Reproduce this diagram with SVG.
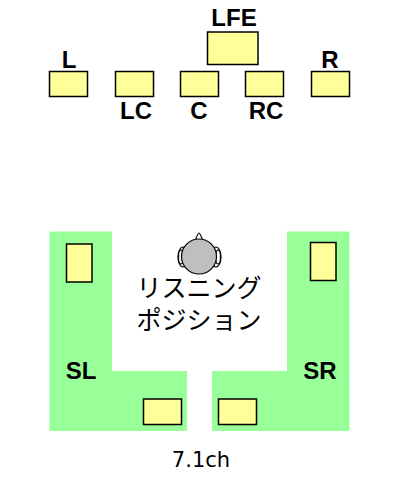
<svg xmlns="http://www.w3.org/2000/svg" width="400" height="480" viewBox="0 0 400 480">
<style>
.sp{fill:#ffff99;stroke:#000;stroke-width:1.5}
.room{fill:#99ff99}
.lb{font:bold 24px "Liberation Sans",Arial,sans-serif;fill:#000;text-anchor:middle}
.jp{font:25px "Noto Sans CJK JP","Liberation Sans",sans-serif;fill:#000;text-anchor:middle}
.cap{font:21px "DejaVu Sans","Liberation Sans",sans-serif;fill:#000;text-anchor:middle}
.hd{fill:#fff;stroke:#000;stroke-width:1.2}
</style>
<rect width="400" height="480" fill="#fff"/>
<path id="room-left" class="room" d="M49.500 231.500H112V371H187V431H49.500Z"/>
<path id="room-right" class="room" d="M287 231.500H349.500V431H212V371H287Z"/>
<g id="sp-lfe"><rect class="sp" x="207.500" y="32" width="50.500" height="32.500"/><text class="lb" x="234" y="26">LFE</text></g>
<g id="sp-l"><rect class="sp" x="49.500" y="71.500" width="38" height="25"/><text class="lb" x="69" y="68">L</text></g>
<g id="sp-lc"><rect class="sp" x="115.500" y="71.500" width="38" height="25"/><text class="lb" x="136" y="119">LC</text></g>
<g id="sp-c"><rect class="sp" x="180.500" y="71.500" width="38" height="25"/><text class="lb" x="199" y="119">C</text></g>
<g id="sp-rc"><rect class="sp" x="245.500" y="71.500" width="38" height="25"/><text class="lb" x="266" y="119">RC</text></g>
<g id="sp-r"><rect class="sp" x="311.500" y="71.500" width="38" height="25"/><text class="lb" x="330" y="68">R</text></g>
<g id="sp-sl"><rect class="sp" x="66.500" y="244" width="25.500" height="38"/><rect class="sp" x="143.500" y="399" width="38" height="25.500"/><text class="lb" x="81" y="379">SL</text></g>
<g id="sp-sr"><rect class="sp" x="310.500" y="242.500" width="25.500" height="38"/><rect class="sp" x="218.500" y="399" width="38" height="25.500"/><text class="lb" x="320" y="379">SR</text></g>
<g id="listener">
<path class="hd" d="M195 241Q198 233 199 233Q200 233 203 241Z"/>
<ellipse class="hd" cx="183" cy="257" rx="5" ry="10"/>
<ellipse class="hd" cx="216" cy="257" rx="5" ry="10"/>
<ellipse class="hd" cx="181" cy="257" rx="2.500" ry="7"/>
<ellipse class="hd" cx="218" cy="257" rx="2.500" ry="7"/>
<circle cx="199" cy="256.500" r="17.500" fill="#bfbfbf" stroke="#000" stroke-width="1.200"/>
<text class="jp" x="199" y="297">リスニング</text>
<text class="jp" x="199" y="329">ポジション</text>
</g>
<text id="caption" class="cap" x="201" y="467">7.1ch</text>
<g id="connectors"/>
</svg>
